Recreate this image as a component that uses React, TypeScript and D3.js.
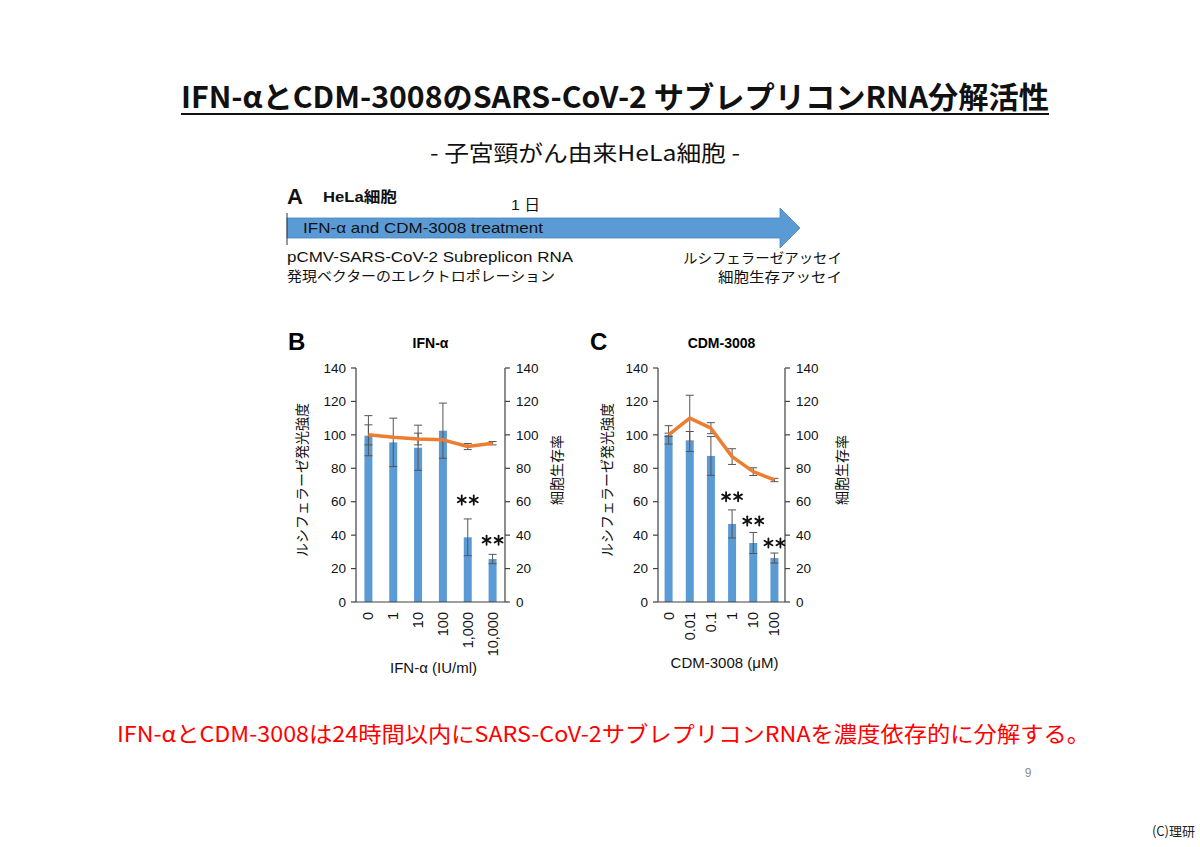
import React from "react";
import * as d3 from "d3";

// ---------- data ----------
const ifnDoses = ["0", "1", "10", "100", "1,000", "10,000"];
const ifnLuc = [99.5, 95.5, 92.3, 102.5, 38.7, 25.7];
const ifnLucErr = [12, 14.5, 13.5, 16.5, 11, 2.8];
const ifnViab = [100, 98.5, 97.5, 97, 93, 95];
const ifnViabErr = [6, 0, 3.5, 0, 1.8, 1];
const ifnSig = [null, null, null, null, 61, 37];

const cdmDoses = ["0", "0.01", "0.1", "1", "10", "100"];
const cdmLuc = [100, 96, 87.4, 46.7, 35.3, 26.3];
const cdmLucErr = [5.5, 6, 11.6, 8.4, 6.3, 3];
const cdmViab = [100, 110, 104, 87, 78, 73];
const cdmViabErr = [1, 13.7, 3.3, 4.7, 2.3, 1];
const cdmSig = [null, null, null, 63, 48.5, 35.3];

const yTicks = [0, 20, 40, 60, 80, 100, 120, 140];

const titleText = "IFN-αとCDM-3008のSARS-CoV-2 サブレプリコンRNA分解活性";
const subtitleText = "- 子宮頸がん由来HeLa細胞 -";
const conclusionText = "IFN-αとCDM-3008は24時間以内にSARS-CoV-2サブレプリコンRNAを濃度依存的に分解する。";

const BAR = "#5B9BD5";
const LINE = "#ED7D31";
const AX = "#404040";
const SANS = "'Liberation Sans', Arial, 'Noto Sans CJK JP', sans-serif";
const JP = "'Noto Sans CJK JP', sans-serif";

type PanelProps = {
  x0: number; x1: number;
  letter: string; title: string; xTitle: string;
  doses: string[]; luc: number[]; lucErr: number[];
  viab: number[]; viabErr: number[]; sig: (number | null)[];
  leftTitleX: number; rightTitleX: number;
};

function Star({ x, y }: { x: number; y: number }) {
  const r = 4.6;
  const spokes = [0, 60, 120];
  const one = (cx: number) => (
    <g transform={`translate(${cx},${y})`} stroke="#111" strokeWidth={1.8} strokeLinecap="round">
      {spokes.map((a) => {
        const rad = ((a + 90) * Math.PI) / 180;
        return <line key={a} x1={-r * Math.cos(rad)} y1={-r * Math.sin(rad)} x2={r * Math.cos(rad)} y2={r * Math.sin(rad)} />;
      })}
    </g>
  );
  return (
    <g>
      {one(x - 6)}
      {one(x + 6)}
    </g>
  );
}

function Panel(p: PanelProps) {
  const y = d3.scaleLinear().domain([0, 140]).range([602, 368]);
  const x = d3.scaleBand().domain(p.doses).range([p.x0, p.x1]).padding(0);
  const cx = (d: string) => (x(d) as number) + x.bandwidth() / 2;
  const bw = 8;
  const cap = 8;
  const line = d3.line<number>().x((_, i) => cx(p.doses[i])).y((v) => y(v));
  const errBar = (c: number, v: number, e: number, key: string) =>
    e > 0 ? (
      <g key={key} stroke="#555" strokeWidth={1}>
        <line x1={c} x2={c} y1={y(v - e)} y2={y(v + e)} />
        <line x1={c - cap / 2} x2={c + cap / 2} y1={y(v + e)} y2={y(v + e)} />
        <line x1={c - cap / 2} x2={c + cap / 2} y1={y(v - e)} y2={y(v - e)} />
      </g>
    ) : null;
  const mid = (p.x0 + p.x1) / 2;
  return (
    <g>
      <text x={p.x0 - 68} y={350} fontFamily={SANS} fontWeight="bold" fontSize={24}>{p.letter}</text>
      <text x={mid} y={348} textAnchor="middle" fontFamily={SANS} fontWeight="bold" fontSize={14}>{p.title}</text>
      {p.doses.map((d, i) => (
        <rect key={"b" + i} x={cx(d) - bw / 2} y={y(p.luc[i])} width={bw} height={y(0) - y(p.luc[i])} fill={BAR} />
      ))}
      {p.doses.map((d, i) => errBar(cx(d), p.luc[i], p.lucErr[i], "eb" + i))}
      {p.doses.map((d, i) => errBar(cx(d), p.viab[i], p.viabErr[i], "el" + i))}
      <path d={line(p.viab) as string} fill="none" stroke={LINE} strokeWidth={3.5} strokeLinejoin="round" />
      <g stroke={AX} strokeWidth={1.2}>
        <line x1={p.x0} x2={p.x0} y1={y(0)} y2={y(140)} />
        <line x1={p.x1} x2={p.x1} y1={y(0)} y2={y(140)} />
        <line x1={p.x0} x2={p.x1} y1={y(0)} y2={y(0)} />
        {yTicks.map((t) => (
          <g key={"t" + t}>
            <line x1={p.x0 - 5} x2={p.x0} y1={y(t)} y2={y(t)} />
            <line x1={p.x1} x2={p.x1 + 5} y1={y(t)} y2={y(t)} />
          </g>
        ))}
      </g>
      <g fontFamily={SANS} fontSize={13.5} fill="#111">
        {yTicks.map((t) => (
          <g key={"l" + t}>
            <text x={p.x0 - 10} y={y(t)} dy="0.35em" textAnchor="end">{t}</text>
            <text x={p.x1 + 11} y={y(t)} dy="0.35em" textAnchor="start">{t}</text>
          </g>
        ))}
        {p.doses.map((d) => (
          <text key={"x" + d} transform={`translate(${cx(d)},${612}) rotate(-90)`} dy="0.35em" textAnchor="end" fontSize={14.5}>{d}</text>
        ))}
      </g>
      {p.sig.map((s, i) => (s == null ? null : <Star key={"s" + i} x={cx(p.doses[i])} y={y(s)} />))}
      <text transform={`translate(${p.leftTitleX},480) rotate(-90)`} textAnchor="middle" dy="0.35em" fontFamily={JP} fontSize={14} fill="#111">ルシフェラーゼ発光強度</text>
      <text transform={`translate(${p.rightTitleX},470) rotate(-90)`} textAnchor="middle" dy="0.35em" fontFamily={JP} fontSize={14} fill="#111">細胞生存率</text>
      <text x={mid + 3} y={p.letter === "B" ? 673 : 668} textAnchor="middle" fontFamily={SANS} fontSize={15} fill="#111">{p.xTitle}</text>
    </g>
  );
}

export default function App() {
  return (
    <svg width={1200} height={847} style={{ position: "absolute", left: 0, top: 0, background: "#fff" }}>
      <rect width={1200} height={847} fill="#fff" />
      <text x={181} y={108} textLength={868} lengthAdjust="spacingAndGlyphs" fontFamily={JP} fontWeight="bold" fontSize={30} fill="#111">{titleText}</text>
      <line x1={181} x2={1049} y1={114} y2={114} stroke="#111" strokeWidth={2} />
      <text x={430} y={161} textLength={310} lengthAdjust="spacingAndGlyphs" fontFamily={JP} fontSize={22} fill="#111">{subtitleText}</text>

      {/* panel A */}
      <text x={287} y={204} fontFamily={SANS} fontWeight="bold" fontSize={22} fill="#111">A</text>
      <text x={323} y={202} textLength={74} lengthAdjust="spacingAndGlyphs" fontFamily={SANS} fontWeight="bold" fontSize={15} fill="#111">HeLa細胞</text>
      <text x={511} y={210} textLength={29} lengthAdjust="spacingAndGlyphs" fontFamily={SANS} fontSize={14.5} fill="#111">1 日</text>
      <path d="M287,218 L780,218 L780,208 L800,228 L780,248 L780,238 L287,238 Z" fill={BAR} stroke="#4a86bd" strokeWidth={0.8} />
      <line x1={287} x2={287} y1={213} y2={245} stroke="#333" strokeWidth={1} />
      <text x={303} y={233} textLength={240} lengthAdjust="spacingAndGlyphs" fontFamily={SANS} fontSize={15} fill="#111">IFN-α and CDM-3008 treatment</text>
      <text x={287} y={262} textLength={286} lengthAdjust="spacingAndGlyphs" fontFamily={SANS} fontSize={15} fill="#111">pCMV-SARS-CoV-2 Subreplicon RNA</text>
      <text x={287} y={281} textLength={268} lengthAdjust="spacingAndGlyphs" fontFamily={JP} fontSize={14} fill="#111">発現ベクターのエレクトロポレーション</text>
      <text x={683} y={263} textLength={159} lengthAdjust="spacingAndGlyphs" fontFamily={JP} fontSize={14} fill="#111">ルシフェラーゼアッセイ</text>
      <text x={718} y={282} textLength={124} lengthAdjust="spacingAndGlyphs" fontFamily={JP} fontSize={14} fill="#111">細胞生存アッセイ</text>

      <Panel x0={356} x1={505} letter="B" title="IFN-α" xTitle="IFN-α (IU/ml)"
        doses={ifnDoses} luc={ifnLuc} lucErr={ifnLucErr} viab={ifnViab} viabErr={ifnViabErr} sig={ifnSig}
        leftTitleX={302} rightTitleX={557} />
      <Panel x0={658} x1={785} letter="C" title="CDM-3008" xTitle="CDM-3008 (μM)"
        doses={cdmDoses} luc={cdmLuc} lucErr={cdmLucErr} viab={cdmViab} viabErr={cdmViabErr} sig={cdmSig}
        leftTitleX={607} rightTitleX={842} />

      <text x={117} y={742} textLength={973} lengthAdjust="spacingAndGlyphs" fontFamily={JP} fontSize={22} fill="#FF0000">{conclusionText}</text>
      <text x={1028} y={777} textAnchor="middle" fontFamily={SANS} fontSize={12} fill="#8c8c8c">9</text>
      <text x={1195} y={836} textAnchor="end" fontFamily={JP} fontSize={13} fill="#222">(C)理研</text>
    </svg>
  );
}
